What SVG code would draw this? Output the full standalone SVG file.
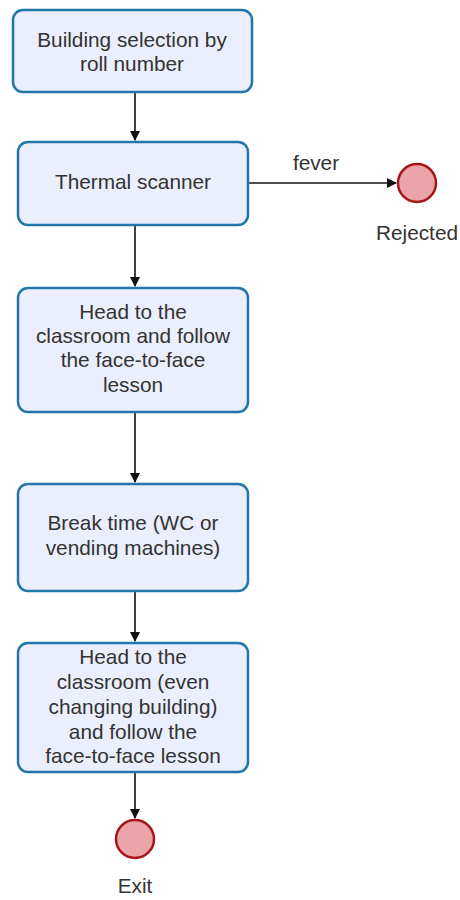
<svg xmlns="http://www.w3.org/2000/svg" width="460" height="900" viewBox="0 0 460 900">
  <style>
    .box { fill: #ebeefc; stroke: #2177a8; stroke-width: 2.5; }
    .end { fill: #eba4a8; stroke: #a5161b; stroke-width: 2.5; }
    .lbl { font-family: "Liberation Sans", Arial, sans-serif; font-size: 20.8px; fill: #333; text-anchor: middle; }
    .edge { stroke: #111; stroke-width: 1.6; fill: none; marker-end: url(#arrow); }
  </style>
  <defs>
    <marker id="arrow" markerWidth="10" markerHeight="10" refX="9" refY="5" orient="auto" markerUnits="userSpaceOnUse">
      <path d="M0,0 L10,5 L0,10 Z" fill="#111"/>
    </marker>
  </defs>
  <rect width="460" height="900" fill="#fff"/>

  <g id="connectors">
    <line class="edge" x1="135" y1="92" x2="135" y2="140"/>
    <line class="edge" x1="135" y1="225" x2="135" y2="286"/>
    <line class="edge" x1="135" y1="412" x2="135" y2="482"/>
    <line class="edge" x1="135" y1="591" x2="135" y2="641"/>
    <line class="edge" x1="135" y1="772" x2="135" y2="818"/>
    <line class="edge" x1="248" y1="183" x2="396" y2="183"/>
    <text class="lbl" x="316" y="170">fever</text>
  </g>

  <g id="n1">
    <rect class="box" x="13" y="10" width="239" height="82" rx="10"/>
    <text class="lbl"><tspan x="132" y="47">Building selection by</tspan><tspan x="132" y="71">roll number</tspan></text>
  </g>

  <g id="n2">
    <rect class="box" x="18" y="142" width="230" height="83" rx="10"/>
    <text class="lbl" x="133" y="189">Thermal scanner</text>
  </g>

  <g id="n3">
    <rect class="box" x="18" y="288" width="230" height="124" rx="10"/>
    <text class="lbl"><tspan x="133" y="319">Head to the</tspan><tspan x="133" y="343">classroom and follow</tspan><tspan x="133" y="367">the face-to-face</tspan><tspan x="133" y="392">lesson</tspan></text>
  </g>

  <g id="n4">
    <rect class="box" x="18" y="484" width="230" height="107" rx="10"/>
    <text class="lbl"><tspan x="133" y="530">Break time (WC or</tspan><tspan x="133" y="555">vending machines)</tspan></text>
  </g>

  <g id="n5">
    <rect class="box" x="18" y="643" width="230" height="129" rx="10"/>
    <text class="lbl"><tspan x="133" y="664">Head to the</tspan><tspan x="133" y="689">classroom (even</tspan><tspan x="133" y="714">changing building)</tspan><tspan x="133" y="739">and follow the</tspan><tspan x="133" y="763">face-to-face lesson</tspan></text>
  </g>

  <g id="rejected">
    <circle class="end" cx="417" cy="183" r="19"/>
    <text class="lbl" x="417" y="240">Rejected</text>
  </g>

  <g id="exit">
    <circle class="end" cx="135" cy="839" r="19"/>
    <text class="lbl" x="135" y="893">Exit</text>
  </g>
</svg>
